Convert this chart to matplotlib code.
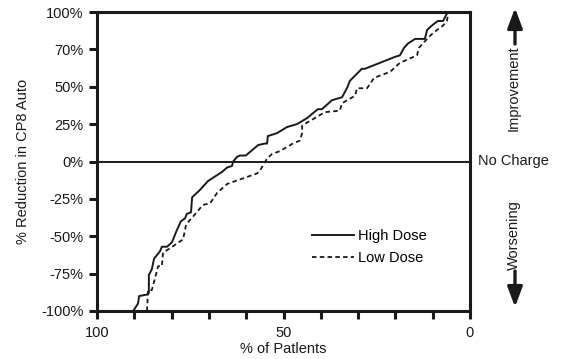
import matplotlib.pyplot as plt

plt.rcParams["font.family"] = ["Liberation Sans", "DejaVu Sans"]

# High dose curve (% of patients, % reduction)
high_x = [90.3, 89.0, 88.7, 86.6, 86.1, 86.1, 85.3, 84.7, 83.1, 82.6, 81.2, 79.9,
          78.6, 77.5, 76.4, 75.9, 74.8, 74.5, 72.4, 70.2, 66.5, 65.1, 63.8, 63.5,
          62.5, 61.7, 60.1, 56.8, 55.0, 54.4, 54.2, 51.7, 49.1, 46.4, 43.7, 40.8,
          39.7, 37.0, 34.3, 33.0, 32.2, 29.0, 28.2, 20.1, 18.8, 17.7, 16.6, 14.7,
          12.1, 11.5, 10.2, 8.6, 7.2, 6.4, 5.6]
high_y = [-100, -95, -90, -89, -88, -76, -72, -65, -60, -57, -57, -54,
          -46, -40, -38, -35, -34, -24, -19, -13, -7, -4, -3, 0,
          3, 4, 4, 11, 12, 12, 17, 19, 23, 25, 29, 35,
          35, 41, 43, 49, 54, 62, 62, 70, 71, 76, 79, 82,
          82, 88, 91, 94, 94, 98, 101]

# Low dose curve
low_x = [86.6, 86.3, 85.3, 83.6, 82.6, 82.3, 80.4, 76.9, 76.1, 74.3, 71.6, 69.7,
         67.8, 65.1, 57.1, 56.3, 54.4, 53.1, 50.9, 47.5, 45.6, 45.0, 45.0, 43.7,
         38.9, 34.9, 34.3, 30.8, 30.3, 27.6, 25.7, 21.4, 18.8, 14.2, 13.7, 11.5,
         9.9, 7.2, 6.2, 5.9, 5.4]
low_y = [-100, -86, -86, -70, -70, -61, -58, -52, -42, -37, -29, -28,
         -21, -15, -8, -6, 2, 5, 7, 12, 14, 19, 24, 26,
         33, 34, 39, 44, 49, 49, 56, 60, 66, 71, 76, 82,
         86, 91, 94, 98, 101]

y_ticks = [100, 75, 50, 25, 0, -25, -50, -75, -100]
y_labels = ["100%", "70%", "50%", "25%", "0%", "-25%", "-50%", "-75%", "-100%"]
x_ticks = [100, 90, 80, 70, 60, 50, 40, 30, 20, 10, 0]
x_labels = ["100", "", "", "", "", "50", "", "", "", "", "0"]

ink = "#1a1a1a"
fs = 10.5

fig = plt.figure(figsize=(5.84, 3.59), dpi=100)
ax = fig.add_axes([97 / 584, 1 - 311 / 359, 373 / 584, 299 / 359])

ax.plot(high_x, high_y, color=ink, lw=1.4, label="High Dose")
ax.plot(low_x, low_y, color=ink, lw=1.3, linestyle=(0, (2.5, 1.8)), label="Low Dose")
ax.axhline(0, color=ink, lw=1.4)

ax.set_xlim(100, 0)
ax.set_ylim(-100, 100)
ax.set_yticks(y_ticks)
ax.set_yticklabels(y_labels)
ax.set_xticks(x_ticks)
ax.set_xticklabels(x_labels)
ax.tick_params(axis="both", direction="out", length=6, width=2.2, labelsize=fs,
               colors=ink)
ax.tick_params(axis="x", pad=5)

for s in ax.spines.values():
    s.set_linewidth(2.2)
    s.set_color(ink)

ax.set_xlabel("% of Patlents", fontsize=fs, labelpad=1, color=ink)
ax.set_ylabel("% Reduction in CP8 Auto", fontsize=fs, labelpad=8, color=ink)

ax.legend(loc="upper left", bbox_to_anchor=(0.56, 0.295), frameon=False,
          fontsize=fs, handlelength=2.9, handletextpad=0.3, labelspacing=0.55,
          borderaxespad=0)

# right side annotations
fig.text(478 / 584, 1 - 161 / 359, "No Charge", fontsize=fs, va="center",
         ha="left", color=ink)
fig.text(514 / 584, 1 - 88 / 359, "Improvement", fontsize=fs, rotation=90,
         va="center", ha="center", color=ink)
fig.text(514 / 584, 1 - 235 / 359, "Worsening", fontsize=fs, rotation=90,
         va="center", ha="center", color=ink)
arrow = dict(arrowstyle="-|>,head_length=1.2,head_width=0.45",
             lw=2.4, color=ink, shrinkA=0, shrinkB=0)
ax.annotate("", xy=(515 / 584, 1 - 8 / 359), xytext=(515 / 584, 1 - 44 / 359),
            xycoords="figure fraction", textcoords="figure fraction", arrowprops=arrow)
ax.annotate("", xy=(515 / 584, 1 - 307 / 359), xytext=(515 / 584, 1 - 271 / 359),
            xycoords="figure fraction", textcoords="figure fraction", arrowprops=arrow)

fig.savefig("out.png", dpi=100)
